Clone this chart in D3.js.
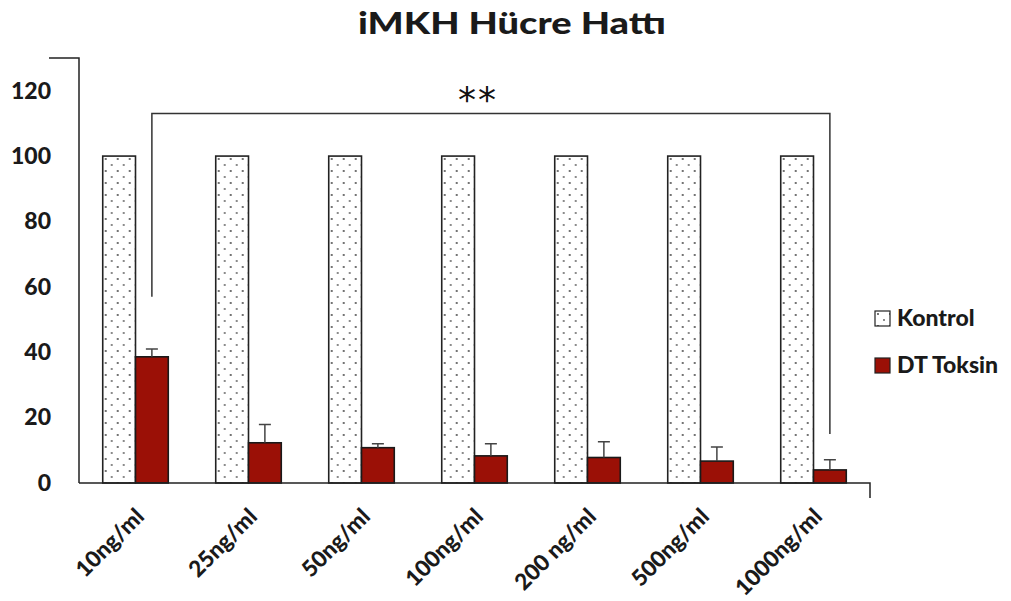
<!DOCTYPE html>
<html>
<head>
<meta charset="utf-8">
<script src="https://cdn.jsdelivr.net/npm/d3@7"></script>
<style>
  html, body { margin: 0; padding: 0; background: #fff; }
  svg { display: block; font-family: Lato, "Open Sans", sans-serif; }
</style>
</head>
<body>
<svg id="chart" width="1011" height="601"></svg>
<script>
// Concentrations of diphtheria toxin tested on the iMKH cell line
const categories = ["10ng/ml", "25ng/ml", "50ng/ml", "100ng/ml", "200 ng/ml", "500ng/ml", "1000ng/ml"];
const seriesNames = ["Kontrol", "DT Toksin"];
// Cell viability (%)
const kontrolValues = [100, 100, 100, 100, 100, 100, 100];
const toksinValues = [38.6, 12.3, 10.8, 8.3, 7.8, 6.7, 4.0];
const toksinErrors = [2.4, 5.6, 1.2, 3.7, 4.8, 4.3, 3.1];
const yTicks = [0, 20, 40, 60, 80, 100, 120];
// Significance bracket between the first and last dose (value units)
const bracket = { from: 0, to: 6, top: 113, leftEnd: 57, rightEnd: 15, label: "**" };

const svg = d3.select("#chart");
const m = { left: 79, right: 870, top: 58, bottom: 483 };

const x0 = d3.scaleBand().domain(categories).range([m.left, m.right])
  .paddingInner(0.42).paddingOuter(0.21);
const x1 = d3.scaleBand().domain(seriesNames).range([0, x0.bandwidth()]).padding(0);
const y = d3.scaleLinear().domain([0, 130]).range([m.bottom, m.top]);

// Dotted fill for the control bars
const defs = svg.append("defs");
const pat = defs.append("pattern").attr("id", "dots")
  .attr("patternUnits", "userSpaceOnUse").attr("width", 12).attr("height", 12)
  .attr("x", 0).attr("y", 0);
pat.append("rect").attr("width", 12).attr("height", 12).attr("fill", "#fff");
pat.append("circle").attr("cx", 3).attr("cy", 3).attr("r", 0.9).attr("fill", "#333");
pat.append("circle").attr("cx", 9).attr("cy", 9).attr("r", 0.9).attr("fill", "#555");

const red = "#9b1006";

// Title
svg.append("text").attr("x", 512).attr("y", 34).attr("text-anchor", "middle")
  .attr("font-size", 31).attr("font-weight", 900).attr("fill", "#1a1a1a")
  .attr("textLength", 308).attr("lengthAdjust", "spacingAndGlyphs")
  .text("iMKH Hücre Hattı");

// Y axis (line, top cap and labels only)
const yAxis = d3.axisLeft(y).tickValues(yTicks).tickSize(0).tickPadding(28);
const gy = svg.append("g").attr("transform", `translate(${m.left},0)`).call(yAxis);
gy.select(".domain").remove();
gy.selectAll("text").attr("font-size", 23).attr("font-weight", 900)
  .attr("fill", "#1a1a1a").attr("font-family", "Lato, sans-serif");
svg.append("path")
  .attr("d", `M${m.left - 30},${y(130)}H${m.left}V${y(0)}`)
  .attr("fill", "none").attr("stroke", "#222").attr("stroke-width", 1.5);

// Control bars
const groups = svg.append("g").selectAll("g").data(categories).join("g")
  .attr("transform", d => `translate(${x0(d)},0)`);
groups.append("rect")
  .attr("x", x1("Kontrol")).attr("width", x1.bandwidth())
  .attr("y", (d, i) => y(kontrolValues[i]))
  .attr("height", (d, i) => y(0) - y(kontrolValues[i]))
  .attr("fill", "url(#dots)").attr("stroke", "#222").attr("stroke-width", 1.6);

// Toxin bars
groups.append("rect")
  .attr("x", x1("DT Toksin")).attr("width", x1.bandwidth())
  .attr("y", (d, i) => y(toksinValues[i]))
  .attr("height", (d, i) => y(0) - y(toksinValues[i]))
  .attr("fill", red).attr("stroke", "#1a1a1a").attr("stroke-width", 1.6);

// Upper error bars
const cx = x1("DT Toksin") + x1.bandwidth() / 2;
groups.append("path")
  .attr("d", (d, i) => {
    const t = y(toksinValues[i]), e = y(toksinValues[i] + toksinErrors[i]);
    return `M${cx},${t}V${e}M${cx - 6},${e}H${cx + 6}`;
  })
  .attr("fill", "none").attr("stroke", "#444").attr("stroke-width", 1.5);

// X axis line with end tick
svg.append("path")
  .attr("d", `M${m.left},${y(0)}H${m.right}v15`)
  .attr("fill", "none").attr("stroke", "#222").attr("stroke-width", 1.5);

// Category labels, rotated
const xAxis = d3.axisBottom(x0).tickSize(0).tickPadding(0);
const gx = svg.append("g").attr("transform", `translate(0,${m.bottom})`).call(xAxis);
gx.select(".domain").remove();
gx.selectAll("text")
  .attr("font-size", 22.5).attr("font-weight", 900).attr("fill", "#1a1a1a")
  .attr("font-family", "Lato, sans-serif")
  .attr("text-anchor", "end").attr("dy", 0)
  .attr("transform", "translate(10,35) rotate(-45)");

// Significance bracket
const bx0 = x0(categories[bracket.from]) + cx;
const bx1 = x0(categories[bracket.to]) + cx;
svg.append("path")
  .attr("d", `M${bx0},${y(bracket.leftEnd)}V${y(bracket.top)}H${bx1}V${y(bracket.rightEnd)}`)
  .attr("fill", "none").attr("stroke", "#333").attr("stroke-width", 1.5);
svg.append("text").attr("x", 478).attr("y", y(bracket.top) - 2)
  .attr("text-anchor", "middle").attr("font-size", 36).attr("fill", "#111")
  .attr("font-family", "DejaVu Sans, sans-serif")
  .attr("letter-spacing", 2)
  .text(bracket.label);

// Legend
const legend = svg.append("g").attr("transform", "translate(875,311)");
seriesNames.forEach((name, i) => {
  const g = legend.append("g").attr("transform", `translate(0,${i * 47})`);
  g.append("rect").attr("width", 15).attr("height", 15)
    .attr("fill", i === 0 ? "url(#dots)" : red)
    .attr("stroke", "#222").attr("stroke-width", 1.2);
  g.append("text").attr("x", 22).attr("y", 15)
    .attr("font-size", 23).attr("font-weight", 900).attr("fill", "#1a1a1a")
    .text(name);
});
</script>
</body>
</html>
